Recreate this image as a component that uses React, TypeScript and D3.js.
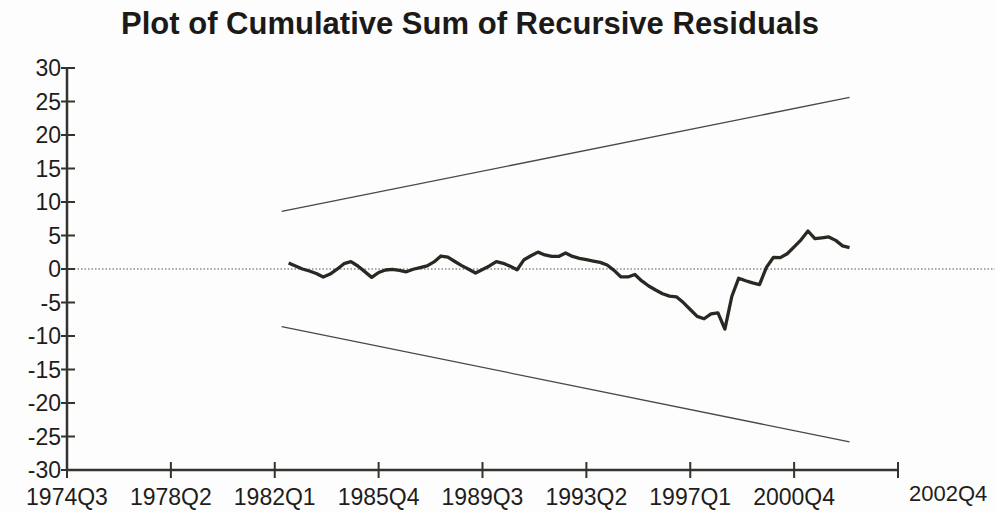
import React from 'react';
import * as d3 from 'd3';

// quarter labels on the x axis (1974Q3 is the origin)
const xTickLabels = ['1974Q3', '1978Q2', '1982Q1', '1985Q4', '1989Q3', '1993Q2', '1997Q1', '2000Q4'];
const axisEndQuarter = '2004Q3';
const axisEndLabel = '2002Q4';

// CUSUM series, one value per quarter from 1982Q3 to 2002Q4
const cusumStart = '1982Q3';
const cusum = [
  0.9, 0.45, 0.0, -0.3, -0.67, -1.19, -0.75, -0.03, 0.79, 1.09,
  0.45, -0.39, -1.25, -0.52, -0.15, -0.06, -0.19, -0.42, -0.04, 0.21,
  0.46, 1.06, 1.94, 1.76, 1.12, 0.51, -0.04, -0.6, -0.07, 0.46,
  1.09, 0.85, 0.4, -0.12, 1.39, 1.97, 2.52, 2.1, 1.88, 1.88,
  2.39, 1.87, 1.6, 1.39, 1.18, 0.99, 0.6, -0.21, -1.19, -1.19,
  -0.81, -1.78, -2.54, -3.13, -3.69, -4.04, -4.15, -5.01, -6.04, -7.07,
  -7.43, -6.69, -6.55, -8.96, -4.1, -1.37, -1.75, -2.07, -2.34, 0.24,
  1.72, 1.69, 2.28, 3.31, 4.36, 5.67, 4.52, 4.66, 4.78, 4.27,
  3.45, 3.18,
];

// 5% significance lines
const boundQuarters = ['1982Q2', '2002Q4'];
const upperBound = [8.6, 25.6];
const lowerBound = [-8.6, -25.8];

const title = 'Plot of Cumulative Sum of Recursive Residuals';

// quarters counted from 1974Q3
function qIndex(q: string) {
  const year = +q.slice(0, 4);
  const qq = +q.slice(5);
  return (year - 1974) * 4 + (qq - 3);
}

export default function App() {
  const width = 995, height = 513;

  const x = d3.scaleLinear().domain([0, qIndex(axisEndQuarter)]).range([67, 898]);
  const y = d3.scaleLinear().domain([-30, 30]).range([470, 68]);

  const s0 = qIndex(cusumStart);
  const line = d3.line<number>()
    .x((d, i) => x(s0 + i))
    .y(d => y(d));

  const bLine = d3.line<number>()
    .x((d, i) => x(qIndex(boundQuarters[i])))
    .y(d => y(d));

  const axisColor = '#36322d';
  const font = '"Liberation Sans", Arial, sans-serif';

  return (
    <div style={{ position: 'absolute', left: 0, top: 0 }}>
      <svg width={width} height={height} style={{ display: 'block', background: '#fdfdfd' }}>
        <text x={121} y={34} fontFamily={font} fontWeight="bold" fontSize={31}
          textLength={698} lengthAdjust="spacingAndGlyphs" fill="#1c1a18">{title}</text>

        {/* zero reference */}
        <line x1={x(0)} x2={width} y1={y(0)} y2={y(0)} stroke="#8a8a8a"
          strokeWidth={1.3} strokeDasharray="1.5,2" />

        {/* significance bounds */}
        <path d={bLine(upperBound) || ''} fill="none" stroke="#4a4744" strokeWidth={1.3} />
        <path d={bLine(lowerBound) || ''} fill="none" stroke="#4a4744" strokeWidth={1.3} />

        {/* cusum */}
        <path d={line(cusum) || ''} fill="none" stroke="#2b2723" strokeWidth={3.3}
          strokeLinejoin="round" />

        {/* y axis */}
        <line x1={x(0)} x2={x(0)} y1={y(30)} y2={y(-30)} stroke={axisColor} strokeWidth={2.5} />
        {y.ticks(12).map(t => (
          <g key={t}>
            <line x1={x(0) - 6} x2={x(0) + 8} y1={y(t)} y2={y(t)} stroke={axisColor} strokeWidth={2} />
            <text x={x(0) - 6} y={y(t)} dy="0.36em" textAnchor="end" fontFamily={font}
              fontSize={23} fill="#1f1d1b">{t}</text>
          </g>
        ))}

        {/* x axis */}
        <line x1={x(0)} x2={x(qIndex(axisEndQuarter))} y1={y(-30)} y2={y(-30)} stroke={axisColor} strokeWidth={2.5} />
        {xTickLabels.map(l => (
          <g key={l}>
            <line x1={x(qIndex(l))} x2={x(qIndex(l))} y1={y(-30) - 8} y2={y(-30) + 8}
              stroke={axisColor} strokeWidth={2} />
            <text x={x(qIndex(l))} y={505} textAnchor="middle" fontFamily={font}
              fontSize={23} fill="#1f1d1b">{l}</text>
          </g>
        ))}
        <line x1={x(qIndex(axisEndQuarter))} x2={x(qIndex(axisEndQuarter))} y1={y(-30) - 8} y2={y(-30) + 8}
          stroke={axisColor} strokeWidth={2} />
        <text x={x(qIndex(axisEndQuarter)) + 11} y={501} fontFamily={font}
          fontSize={22} fill="#1f1d1b">{axisEndLabel}</text>
      </svg>
    </div>
  );
}
